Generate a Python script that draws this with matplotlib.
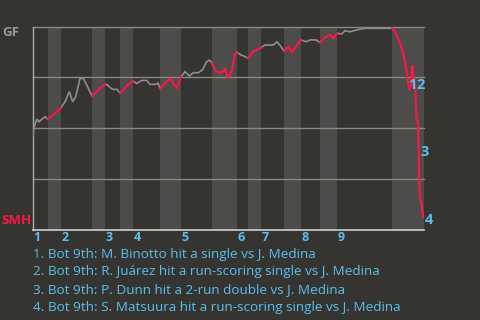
import matplotlib
matplotlib.use("Agg")
import matplotlib.pyplot as plt

# ---- data ----
progress = [0, 0.7, 4, 6, 8.7, 12, 13.7, 15,
            28, 28.7, 32, 36.3, 39.7, 42.7, 47, 50.3, 53.7, 59,
            68.7, 72, 73.7, 77, 79.7, 84, 87,
            97, 100, 103.7, 108.7, 113.7, 117, 123.7, 125, 127,
            132, 137, 140.3, 143.7, 148, 152, 156.3, 160.3, 165.3, 169.3, 173.7, 176.5, 179,
            183, 188.7, 192, 195.3, 198.7, 202, 204, 208, 212, 215,
            220.3, 227, 228, 232, 240.3, 244, 247, 251,
            255.3, 259, 263.7, 268, 273, 277, 283, 287,
            292, 297, 300.3, 304, 308.7, 312, 317, 320.3, 323.7, 326.3, 332, 359,
            360.3, 363.7, 367, 370.3, 373.5, 375.3, 376.3, 378, 379.3, 380.3, 382.5,
            383.5, 385, 385.5, 386, 387, 388.7, 390.3, 391.3]
gf_wp = [46.2, 50.0, 54.5, 53.2, 54.4, 55.7, 54.9, 54.5,
         60.0, 60.6, 63.0, 68.0, 63.0, 65.5, 74.5, 74.5, 71.3, 65.8,
         70.4, 71.3, 71.6, 70.1, 69.1, 69.1, 67.3,
         72.4, 73.2, 72.0, 73.5, 73.5, 71.6, 71.6, 72.4, 69.5,
         72.1, 74.4, 72.1, 69.6, 75.2, 77.8, 75.7, 77.3, 77.3, 78.6, 82.7, 83.5, 81.9,
         77.8, 77.3, 79.1, 74.5, 78.1, 86.5, 87.3, 86.0, 85.2, 84.5,
         87.7, 89.4, 89.6, 90.9, 90.9, 92.5, 90.7, 88.0,
         90.1, 87.5, 90.7, 93.4, 92.5, 93.4, 93.4, 92.1,
         94.7, 95.8, 94.2, 96.7, 96.3, 97.9, 97.4, 97.9, 98.3, 98.6, 99.1, 99.1,
         98.3, 95.8, 91.7, 86.8, 78.6, 71.3, 68.8, 71.3, 81.1, 76.0, 68.8,
         54.1, 53.6, 42.8, 28.5, 16.2, 11.8, 6.4, 0.0]
half_bounds = [0, 15, 28, 59, 72, 87, 100, 127, 148, 179, 204, 215, 228, 251, 268, 287, 304, 359, 391]
innings = ["1", "2", "3", "4", "5", "6", "7", "8", "9"]
event_marks = ["1", "2", "3", "4"]
event_pos = [(378.9, 71.3), (387.2, 71.3), (391.4, 38.3), (395.7, 4.9)]
events = [
    "1. Bot 9th: M. Binotto hit a single vs J. Medina",
    "2. Bot 9th: R. Juárez hit a run-scoring single vs J. Medina",
    "3. Bot 9th: P. Dunn hit a 2-run double vs J. Medina",
    "4. Bot 9th: S. Matsuura hit a run-scoring single vs J. Medina",
]
away, home = "GF", "SMH"

# ---- style ----
BG = "#363430"
BAND = "#4e4c4a"
GRID = "#8a8884"
RED = "#ff1744"
GRAY = "#8e8e8e"
BLUE = "#5bbfee"
plt.rcParams['font.family'] = ['Open Sans', 'DejaVu Sans']

fig = plt.figure(figsize=(4.8, 3.2), dpi=100, facecolor=BG)
ax = fig.add_axes([33/480, 90/320, 391/480, 203.5/320])
ax.set_facecolor(BG)
ax.set_xlim(half_bounds[0], half_bounds[-1])
ax.set_ylim(0, 100)

for i in range(1, len(half_bounds) - 1, 2):
    ax.axvspan(half_bounds[i], half_bounds[i + 1], color=BAND, lw=0, zorder=0)
for g in [25, 50, 75, 100]:
    ax.axhline(g, color=GRID, lw=1.0, zorder=1, clip_on=False)

for i in range(len(half_bounds) - 1):
    a, b = half_bounds[i], half_bounds[i + 1]
    xs = [x for x in progress if a <= x <= b]
    ys = [y for x, y in zip(progress, gf_wp) if a <= x <= b]
    if i % 2 == 0:
        ax.plot(xs, ys, color=GRAY, lw=1.2, zorder=3, solid_joinstyle='miter')
    else:
        ax.plot(xs, ys, color=RED, lw=1.5, zorder=4, solid_joinstyle='miter', clip_on=False)

for s in ["top", "right"]:
    ax.spines[s].set_visible(False)
ax.spines["left"].set_color("#b0aeaa")
ax.spines["bottom"].set_color("#d0d0d0")
ax.spines["left"].set_linewidth(1.0)
ax.spines["bottom"].set_linewidth(1.2)
ax.set_xticks([])
ax.set_yticks([])

# inning labels
for k, lab in enumerate(innings):
    ax.text(half_bounds[2 * k] + 0.3, -3.9, lab, color=BLUE, fontsize=9, fontweight='bold',
            ha='left', va='center', clip_on=False)

for lab, (x, y) in zip(event_marks, event_pos):
    ax.text(x, y, lab, color=BLUE, fontsize=10.5, fontweight='bold', ha='center', va='center',
            clip_on=False, zorder=6)

fig.text(2/480, 1 - 33/320, away, color="#9a9a9a", fontsize=9.5, fontweight='bold', ha='left', va='center')
fig.text(1/480, 1 - 221/320, home, color=RED, fontsize=9.5, fontweight='bold', ha='left', va='center')

for j, t in enumerate(events):
    fig.text(33/480, 1 - (254.5 + 17.5 * j)/320, t, color=BLUE, fontsize=9.7, ha='left', va='center')

fig.savefig("out.png", dpi=100, facecolor=BG)
